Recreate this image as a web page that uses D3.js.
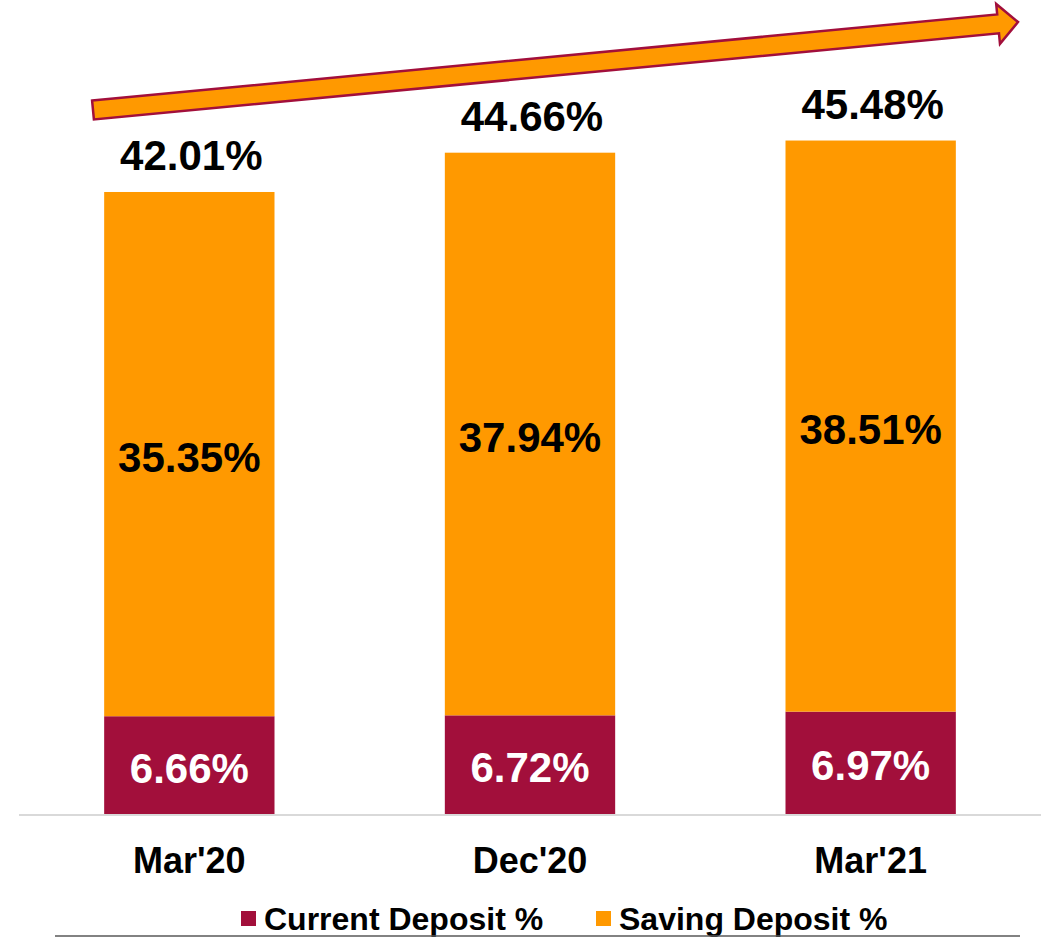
<!DOCTYPE html>
<html>
<head>
<meta charset="utf-8">
<script src="https://cdn.jsdelivr.net/npm/d3@7"></script>
<style>
  body { margin: 0; background: #fff; }
  svg text { font-family: "Liberation Sans", Arial, sans-serif; font-weight: bold; }
</style>
</head>
<body>
<div class="display"></div>
<script>
const categories = ["Mar'20", "Dec'20", "Mar'21"];
const currentDeposit = [6.66, 6.72, 6.97];
const savingDeposit = [35.35, 37.94, 38.51];
const totals = [42.01, 44.66, 45.48];
const seriesNames = ['Current Deposit %', 'Saving Deposit %'];

const width = 1051;
const height = 938;
const baseY = 815;

const crimson = '#A20F3B';
const orange = '#FF9900';

const svg = d3.select('.display')
  .append('svg')
  .attr('width', width)
  .attr('height', height);

const x = d3.scaleBand()
  .domain(categories)
  .range([19, 1041])
  .paddingInner(0.5)
  .paddingOuter(0.25);

const y = d3.scaleLinear()
  .domain([0, 50])
  .range([baseY, baseY - 741.5]);

const rows = categories.map((c, i) => ({
  cat: c,
  current: currentDeposit[i],
  saving: savingDeposit[i],
  total: totals[i]
}));

// current deposit (bottom)
svg.append('g')
  .selectAll('rect')
  .data(rows)
  .enter()
  .append('rect')
  .attr('x', d => x(d.cat))
  .attr('width', x.bandwidth())
  .attr('y', d => y(d.current))
  .attr('height', d => y(0) - y(d.current))
  .attr('fill', crimson);

// saving deposit (stacked)
svg.append('g')
  .selectAll('rect')
  .data(rows)
  .enter()
  .append('rect')
  .attr('x', d => x(d.cat))
  .attr('width', x.bandwidth())
  .attr('y', d => y(d.current + d.saving))
  .attr('height', d => y(d.current) - y(d.current + d.saving))
  .attr('fill', orange);

// axis line
svg.append('line')
  .attr('x1', x.range()[0])
  .attr('x2', x.range()[1])
  .attr('y1', baseY)
  .attr('y2', baseY)
  .attr('stroke', '#D9D9D9')
  .attr('stroke-width', 2);

const cx = d => x(d.cat) + x.bandwidth() / 2;

// labels in segments
svg.append('g')
  .selectAll('text')
  .data(rows)
  .enter()
  .append('text')
  .attr('x', cx)
  .attr('y', d => (y(d.current) + y(0)) / 2 + 17)
  .attr('text-anchor', 'middle')
  .attr('font-size', 42)
  .attr('fill', '#fff')
  .text(d => d.current.toFixed(2) + '%');

svg.append('g')
  .selectAll('text')
  .data(rows)
  .enter()
  .append('text')
  .attr('x', cx)
  .attr('y', d => (y(d.current) + y(d.current + d.saving)) / 2 + 18)
  .attr('text-anchor', 'middle')
  .attr('font-size', 42)
  .attr('fill', '#000')
  .text(d => d.saving.toFixed(2) + '%');

// totals above bars
svg.append('g')
  .selectAll('text')
  .data(rows)
  .enter()
  .append('text')
  .attr('x', d => cx(d) + 2)
  .attr('y', d => y(d.total) - 22)
  .attr('text-anchor', 'middle')
  .attr('font-size', 42)
  .attr('fill', '#000')
  .text(d => d.total.toFixed(2) + '%');

// category labels
svg.append('g')
  .selectAll('text')
  .data(rows)
  .enter()
  .append('text')
  .attr('x', cx)
  .attr('y', 873)
  .attr('text-anchor', 'middle')
  .attr('font-size', 36)
  .attr('fill', '#000')
  .text(d => d.cat);

// trend arrow
const tail = [93, 110];
const tip = [1018, 22];
const len = Math.hypot(tip[0] - tail[0], tip[1] - tail[1]);
const u = [(tip[0] - tail[0]) / len, (tip[1] - tail[1]) / len];
const n = [-u[1], u[0]];
const shaftW = 9.5, headW = 20, headL = 20;
const pt = (p, a, b) => [p[0] + a * u[0] + b * n[0], p[1] + a * u[1] + b * n[1]];
const arrowPts = [
  pt(tail, 0, -shaftW),
  pt(tip, -headL, -shaftW),
  pt(tip, -headL, -headW),
  tip,
  pt(tip, -headL, headW),
  pt(tip, -headL, shaftW),
  pt(tail, 0, shaftW)
];
svg.append('path')
  .attr('d', d3.line()(arrowPts) + 'Z')
  .attr('fill', orange)
  .attr('stroke', crimson)
  .attr('stroke-width', 2.5)
  .attr('stroke-linejoin', 'miter');

// legend
const legendColors = [crimson, orange];
const legendX = [241, 596];
const legend = svg.append('g');
legend.selectAll('rect')
  .data(seriesNames)
  .enter()
  .append('rect')
  .attr('x', (_, i) => legendX[i])
  .attr('y', 911)
  .attr('width', 15)
  .attr('height', 15)
  .attr('fill', (_, i) => legendColors[i]);
legend.selectAll('text')
  .data(seriesNames)
  .enter()
  .append('text')
  .attr('x', (_, i) => legendX[i] + 23)
  .attr('y', 930)
  .attr('font-size', 32)
  .attr('fill', '#000')
  .text(d => d);

svg.append('line')
  .attr('x1', 55)
  .attr('x2', 1020)
  .attr('y1', 936)
  .attr('y2', 936)
  .attr('stroke', '#595959')
  .attr('stroke-width', 1.5);
</script>
</body>
</html>
